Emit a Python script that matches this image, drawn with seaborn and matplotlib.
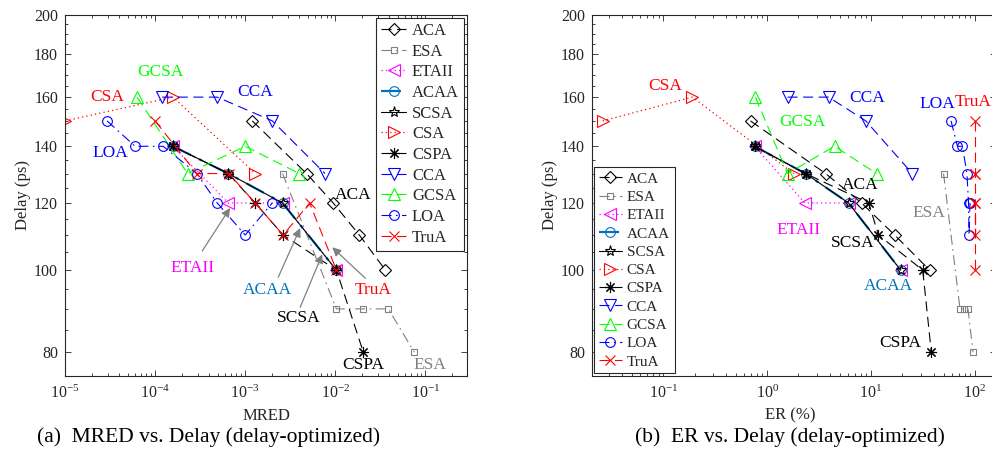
import matplotlib
matplotlib.use("Agg")
import matplotlib.pyplot as plt
import seaborn as sns
from matplotlib.ticker import FixedLocator, NullFormatter, FixedFormatter, LogLocator, LogFormatterSciNotation

# ---------------- data ----------------
names = ["ACA", "ESA", "ETAII", "ACAA", "SCSA", "CSA", "CSPA", "CCA", "GCSA", "LOA", "TruA"]

delay = {
    "ACA":   [150, 130, 120, 110, 100],
    "ESA":   [130, 90, 90, 90, 80],
    "ETAII": [140, 120, 120, 100],
    "ACAA":  [140, 130, 120, 100],
    "SCSA":  [140, 130, 120, 100],
    "CSA":   [150, 160, 130],
    "CSPA":  [140, 130, 120, 110, 100, 80],
    "CCA":   [160, 160, 150, 130],
    "GCSA":  [160, 130, 140, 130],
    "LOA":   [150, 140, 140, 130, 120, 110, 120],
    "TruA":  [150, 130, 130, 120, 110, 120, 100],
}

mred = {
    "ACA":   [1.2e-3, 4.8e-3, 9.5e-3, 0.0185, 0.036],
    "ESA":   [2.6e-3, 0.0103, 0.0205, 0.0388, 0.0755],
    "ETAII": [1.58e-4, 6.5e-4, 2.6e-3, 0.0103],
    "ACAA":  [1.58e-4, 6.5e-4, 2.6e-3, 0.0103],
    "SCSA":  [1.58e-4, 6.5e-4, 2.6e-3, 0.0103],
    "CSA":   [1.0e-5, 1.58e-4, 1.3e-3],
    "CSPA":  [1.58e-4, 6.5e-4, 1.29e-3, 2.64e-3, 0.0103, 0.0205],
    "CCA":   [1.2e-4, 4.9e-4, 2.0e-3, 7.7e-3],
    "GCSA":  [6.3e-5, 2.3e-4, 1.0e-3, 4.0e-3],
    "LOA":   [2.93e-5, 6.0e-5, 1.23e-4, 2.9e-4, 4.9e-4, 1.0e-3, 2.0e-3],
    "TruA":  [1.0e-4, 2.9e-4, 6.6e-4, 1.29e-3, 2.64e-3, 5.2e-3, 0.0103],
}

er = {
    "ACA":   [0.69, 3.65, 8.1, 16.9, 36.7],
    "ESA":   [50, 72, 79, 86, 96],
    "ETAII": [0.755, 2.3, 6.08, 19.3],
    "ACAA":  [0.755, 2.34, 6.08, 19.3],
    "SCSA":  [0.755, 2.34, 6.08, 19.3],
    "CSA":   [0.026, 0.19, 1.8],
    "CSPA":  [0.755, 2.34, 9.5, 11.8, 31.5, 38.1],
    "CCA":   [1.57, 3.9, 8.9, 25.0],
    "GCSA":  [0.77, 1.57, 4.46, 11.3],
    "LOA":   [59, 68, 76, 84, 87, 88, 90],
    "TruA":  [100, 100, 100, 100, 100, 100, 100],
}

y_ticks = [80, 100, 120, 140, 160, 180, 200]
y_minor = list(range(75, 201, 5))

# ---------------- styles ----------------
DASH = (0, (9, 5))
DOT = (0, (1, 2.5))
DASHDOT = (0, (9, 4, 1.5, 4))
AST = (8, 2, 0)
styles = {
    "ACA":   dict(color="black", ls=DASH, marker="D", ms=6, lw=0.8),
    "ESA":   dict(color="#808080", ls=DASHDOT, marker="s", ms=5, lw=0.8),
    "ETAII": dict(color="#FF00FF", ls=DOT, marker="<", ms=9, lw=0.9),
    "ACAA":  dict(color="#0072BD", ls=DASHDOT, marker="o", ms=7, lw=1.6),
    "SCSA":  dict(color="black", ls="-", marker="*", ms=8, lw=0.8),
    "CSA":   dict(color="#FF0000", ls=DOT, marker=">", ms=9, lw=0.9),
    "CSPA":  dict(color="black", ls=DASH, marker=AST, ms=8, lw=0.8),
    "CCA":   dict(color="#0000FF", ls=DASH, marker="v", ms=9, lw=0.8),
    "GCSA":  dict(color="#00FF00", ls=DASH, marker="^", ms=9, lw=0.8),
    "LOA":   dict(color="#0000FF", ls=DASHDOT, marker="o", ms=7, lw=0.8),
    "TruA":  dict(color="#FF0000", ls=DASH, marker="x", ms=7, lw=0.8),
}

# ---------------- theme ----------------
sns.set_style("ticks")
plt.rcParams["font.family"] = ["Liberation Serif", "DejaVu Serif"]
plt.rcParams["mathtext.fontset"] = "custom"
plt.rcParams["mathtext.rm"] = "Liberation Serif"
plt.rcParams["mathtext.it"] = "Liberation Serif:italic"
plt.rcParams["axes.unicode_minus"] = True
AX_COL = "#262626"

fig = plt.figure(figsize=(9.92, 4.76), dpi=100)
W, H = 992, 476
ax1 = fig.add_axes([65 / W, 100 / H, 402 / W, 361 / H])
ax2 = fig.add_axes([592 / W, 100 / H, 404 / W, 361 / H])


def draw(ax, xdata):
    for n in names:
        s = styles[n]
        sns.lineplot(x=xdata[n], y=delay[n], ax=ax, sort=False, estimator=None,
                     legend=False, label=n, color=s["color"], linestyle=s["ls"],
                     linewidth=s["lw"], marker=s["marker"], markersize=s["ms"],
                     markerfacecolor="none", markeredgecolor=s["color"],
                     markeredgewidth=0.8)


def style_axes(ax, xlim):
    ax.set_xscale("log")
    ax.set_yscale("log")
    ax.set_xlim(*xlim)
    ax.set_ylim(75, 200)
    ax.yaxis.set_major_locator(FixedLocator(y_ticks))
    ax.yaxis.set_major_formatter(FixedFormatter([str(v) for v in y_ticks]))
    ax.yaxis.set_minor_locator(FixedLocator(y_minor))
    ax.yaxis.set_minor_formatter(NullFormatter())
    ax.xaxis.set_major_locator(LogLocator(base=10, numticks=20))
    ax.xaxis.set_major_formatter(LogFormatterSciNotation())
    ax.xaxis.set_minor_locator(LogLocator(base=10, subs=range(2, 10), numticks=40))
    ax.xaxis.set_minor_formatter(NullFormatter())
    for sp in ax.spines.values():
        sp.set_visible(True)
        sp.set_color(AX_COL)
        sp.set_linewidth(0.8)
    ax.tick_params(which="both", direction="in", top=True, right=True,
                   colors=AX_COL, labelcolor=AX_COL, width=0.6)
    ax.tick_params(which="major", length=4.5, labelsize=11.5)
    ax.tick_params(which="minor", length=2.5)
    ax.tick_params(axis="x", which="major", pad=6)
    ax.tick_params(axis="y", which="major", pad=5)


draw(ax1, mred)
draw(ax2, er)
style_axes(ax1, (1e-5, 0.29))
style_axes(ax2, (0.0205, 160))

ax1.set_xlabel("MRED", fontsize=12, color=AX_COL)
ax2.set_xlabel("ER (%)", fontsize=12, color=AX_COL)
ax1.set_ylabel("Delay (ps)", fontsize=12, color=AX_COL)
ax2.set_ylabel("Delay (ps)", fontsize=12, color=AX_COL)
ax1.xaxis.set_label_coords(0.5, -0.088)
ax2.xaxis.set_label_coords(0.49, -0.088)
ax1.yaxis.set_label_coords(-0.085, 0.5)
ax2.yaxis.set_label_coords(-0.085, 0.5)

leg1 = ax1.legend(loc="upper right", bbox_to_anchor=(0.9925, 0.9917), borderaxespad=0,
                  frameon=True, fancybox=False, edgecolor=AX_COL, framealpha=1,
                  fontsize=12, handlelength=1.5, handletextpad=0.35,
                  labelspacing=0.28, borderpad=0.3, numpoints=1)
leg1.get_frame().set_linewidth(0.8)
leg2 = ax2.legend(loc="lower left", bbox_to_anchor=(0.005, 0.008), borderaxespad=0,
                  frameon=True, fancybox=False, edgecolor=AX_COL, framealpha=1,
                  fontsize=11, handlelength=1.5, handletextpad=0.35,
                  labelspacing=0.3, borderpad=0.3, numpoints=1)
leg2.get_frame().set_linewidth(0.8)

# ---------------- annotations ----------------
C = {n: styles[n]["color"] for n in names}
C["ACAA"] = "#0072BD"
ann1 = [
    ("GCSA", 1.14e-4, 171.3, C["GCSA"]),
    ("CSA", 2.93e-5, 160.1, C["CSA"]),
    ("LOA", 3.16e-5, 137.4, C["LOA"]),
    ("CCA", 1.3e-3, 162.3, C["CCA"]),
    ("ACA", 0.0158, 122.6, "black"),
    ("ETAII", 2.58e-4, 100.5, C["ETAII"]),
    ("ACAA", 1.76e-3, 94.7, C["ACAA"]),
    ("SCSA", 3.88e-3, 87.8, "black"),
    ("TruA", 0.0264, 94.7, C["TruA"]),
    ("CSPA", 0.0205, 77.2, "black"),
    ("ESA", 0.111, 77.2, C["ESA"]),
]
arrows1 = [
    ((3.33e-4, 105.3), (6.8e-4, 118.4)),
    ((2.33e-3, 98.1), (4.08e-3, 112.1)),
    ((4.08e-3, 90.4), (7.17e-3, 104.4)),
    ((0.0216, 97.8), (9.26e-3, 106.4)),
]
ann2 = [
    ("CSA", 0.105, 164.9, C["CSA"]),
    ("CCA", 9.08, 159.6, C["CCA"]),
    ("GCSA", 2.19, 149.5, C["GCSA"]),
    ("ACA", 7.94, 126.0, "black"),
    ("ETAII", 2.0, 111.5, C["ETAII"]),
    ("SCSA", 6.65, 107.6, "black"),
    ("ACAA", 14.8, 95.7, C["ACAA"]),
    ("CSPA", 19.3, 82.0, "black"),
    ("ESA", 35.9, 116.8, C["ESA"]),
    ("LOA", 43.8, 157.0, C["LOA"]),
    ("TruA", 96.0, 157.9, C["TruA"]),
]

for t, x, y, c in ann1:
    ax1.text(x, y, t, color=c, fontsize=12.5, ha="center", va="center", zorder=20)
for t, x, y, c in ann2:
    ax2.text(x, y, t, color=c, fontsize=12.5, ha="center", va="center", zorder=20)
for tail, head in arrows1:
    ax1.annotate("", xy=head, xytext=tail,
                 arrowprops=dict(arrowstyle="-|>", color="#808080", lw=0.9,
                                 mutation_scale=13, shrinkA=0, shrinkB=0), zorder=19)

fig.text(209 / W, 1 - 437 / H, "(a)  MRED vs. Delay (delay-optimized)",
         fontsize=15.5, ha="center", va="center", color="black")
fig.text(790 / W, 1 - 437 / H, "(b)  ER vs. Delay (delay-optimized)",
         fontsize=15.5, ha="center", va="center", color="black")

fig.savefig("out.png", dpi=100)
